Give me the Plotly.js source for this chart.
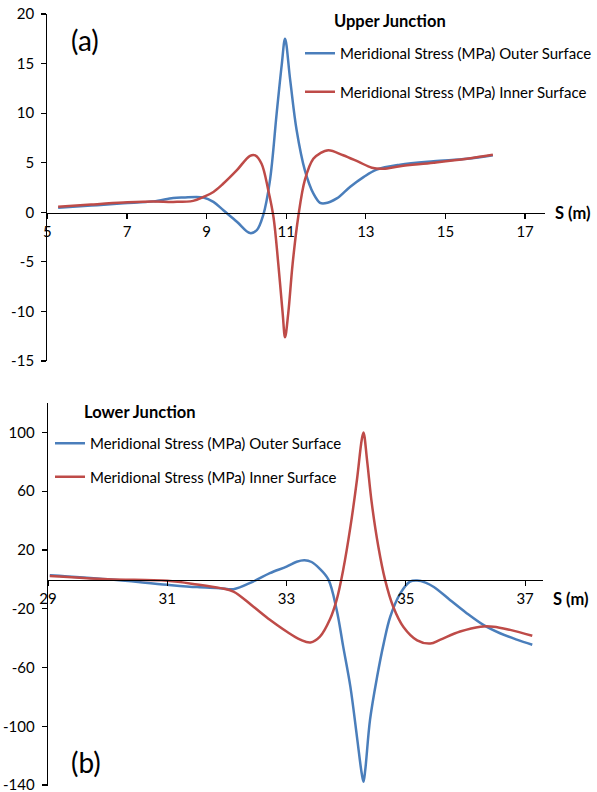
<!DOCTYPE html>
<html><head><meta charset="utf-8">
<script src="https://cdn.plot.ly/plotly-3.0.1.min.js"></script>
<style>html,body{margin:0;padding:0;background:#fff}#chart{width:597px;height:792px}</style>
</head><body><div id="chart"></div>
<script>
// ---- Upper junction (a) ----
const upperOuterS = [5.27, 6.1, 6.91, 7.66, 8.16, 8.41, 8.92, 9.17, 9.42, 9.76, 10.09, 10.26, 10.42, 10.59, 10.76, 10.89, 10.97, 11.1, 11.26, 11.47, 11.68, 11.85, 11.97, 12.27, 12.6, 12.94, 13.27, 13.86, 14.7, 15.54, 16.19];
const upperOuter  = [0.45, 0.68, 0.9, 1.1, 1.45, 1.5, 1.5, 1.05, 0.2, -0.95, -2.1, -1.8, -0.3, 3.2, 10.0, 15.0, 17.5, 13.3, 8.3, 4.2, 1.9, 0.95, 0.9, 1.4, 2.55, 3.55, 4.3, 4.8, 5.15, 5.4, 5.75];
const upperInnerS = [5.27, 6.1, 6.91, 7.66, 8.16, 8.66, 8.92, 9.17, 9.42, 9.76, 10.09, 10.22, 10.38, 10.55, 10.68, 10.8, 10.91, 10.97, 11.05, 11.16, 11.3, 11.47, 11.68, 11.85, 12.06, 12.43, 12.81, 13.15, 13.44, 13.86, 14.7, 15.54, 16.19];
const upperInner  = [0.55, 0.78, 0.98, 1.1, 1.05, 1.15, 1.55, 2.05, 2.9, 4.25, 5.7, 5.75, 4.9, 2.2, -0.5, -5.2, -10.2, -12.6, -10.2, -5.2, -0.5, 3.3, 5.4, 5.95, 6.25, 5.75, 5.1, 4.5, 4.4, 4.65, 5.0, 5.4, 5.8];
const upperXTicks = [5, 7, 9, 11, 13, 15, 17];
const upperYTicks = [-15, -10, -5, 0, 5, 10, 15, 20];

// ---- Lower junction (b) ----
const lowerOuterS = [29.03, 30, 31, 31.5, 31.89, 32.11, 32.44, 32.72, 33.0, 33.17, 33.3, 33.42, 33.55, 33.7, 33.84, 33.95, 34.07, 34.18, 34.26, 34.29, 34.32, 34.4, 34.52, 34.63, 34.74, 34.91, 35.07, 35.19, 35.33, 35.47, 35.74, 36.02, 36.3, 36.58, 36.86, 37.12];
const lowerOuter  = [2.8, 0, -3.7, -5.3, -6.0, -6.7, -1.5, 4.2, 8.7, 12.0, 13.0, 11.8, 7.5, 0, -20.7, -45.8, -73, -107, -132, -137.8, -129.5, -95.5, -66, -43.4, -25.3, -9.4, -1.5, -0.8, -2.2, -5.2, -14, -23, -31, -36.7, -41, -44.5];
const lowerInnerS = [29.03, 30, 31, 31.5, 31.89, 32.11, 32.44, 32.72, 33.0, 33.23, 33.4, 33.56, 33.73, 33.84, 33.95, 34.07, 34.18, 34.26, 34.29, 34.35, 34.43, 34.54, 34.65, 34.79, 34.96, 35.19, 35.41, 35.58, 35.91, 36.25, 36.47, 36.75, 37.12];
const lowerInner  = [2.2, 0, -1.0, -3.5, -6.0, -8.3, -18.5, -27.5, -35.5, -41, -43, -39, -27, -14, 6.5, 35.5, 67.6, 94.8, 100, 81, 51.5, 22, 0, -18.8, -32.4, -41.5, -43.7, -41, -35.5, -32.2, -32.2, -34.4, -38.4];
const lowerXTicks = [29, 31, 33, 35, 37];
const lowerYTicks = [-140, -100, -60, -20, 20, 60, 100];

const seriesNames = ['Meridional Stress (MPa) Outer Surface', 'Meridional Stress (MPa) Inner Surface'];
const BLUE = '#4A7EBB', RED = '#BE4B48';

const W = 597, H = 792;
const px = x => x / W;
const py = y => 1 - y / H;
const FONT = 'Lato, "Open Sans", sans-serif';

const lineStyle = c => ({color: c, width: 2.5, shape: 'spline', smoothing: 1});
const traces = [
  {x: upperOuterS, y: upperOuter, name: seriesNames[0], xaxis: 'x', yaxis: 'y', legend: 'legend', legendgroup: 'a1', mode: 'lines', line: lineStyle(BLUE)},
  {x: upperInnerS, y: upperInner, name: seriesNames[1], xaxis: 'x', yaxis: 'y', legend: 'legend', legendgroup: 'a2', mode: 'lines', line: lineStyle(RED)},
  {x: lowerOuterS, y: lowerOuter, name: seriesNames[0], xaxis: 'x2', yaxis: 'y2', legend: 'legend2', legendgroup: 'b1', mode: 'lines', line: lineStyle(BLUE)},
  {x: lowerInnerS, y: lowerInner, name: seriesNames[1], xaxis: 'x2', yaxis: 'y2', legend: 'legend2', legendgroup: 'b2', mode: 'lines', line: lineStyle(RED)}
];

const axBase = {showgrid: false, zeroline: false, showline: true, linecolor: '#000', linewidth: 1.3,
  ticks: 'outside', ticklen: 5, tickcolor: '#000', tickwidth: 1.2, ticklabeloverflow: 'allow',
  tickfont: {family: FONT, size: 15, color: '#000'}, fixedrange: true};

const layout = {
  width: W, height: H,
  margin: {l: 0, r: 0, t: 0, b: 0},
  paper_bgcolor: '#fff', plot_bgcolor: 'rgba(0,0,0,0)',
  font: {family: FONT, size: 15, color: '#000'},
  showlegend: true,
  xaxis: Object.assign({}, axBase, {domain: [px(47.4), px(545)], range: [5, 17.5], anchor: 'free', position: py(212.5),
    tickmode: 'array', tickvals: upperXTicks, ticktext: upperXTicks.map(String)}),
  yaxis: Object.assign({}, axBase, {domain: [py(361), py(14)], range: [-15, 20], anchor: 'x', ticklabelstandoff: 4,
    tickmode: 'array', tickvals: upperYTicks, ticktext: upperYTicks.map(String)}),
  xaxis2: Object.assign({}, axBase, {domain: [px(48), px(543)], range: [29, 37.3], anchor: 'free', position: py(579.5),
    tickmode: 'array', tickvals: lowerXTicks, ticktext: lowerXTicks.map(String)}),
  yaxis2: Object.assign({}, axBase, {domain: [py(785.5), py(403)], range: [-140.3, 120], anchor: 'x2', ticklabelstandoff: 4,
    tickmode: 'array', tickvals: lowerYTicks, ticktext: lowerYTicks.map(String)}),
  legend: {x: px(300), y: py(37), xanchor: 'left', yanchor: 'top', bgcolor: 'rgba(0,0,0,0)',
    font: {family: FONT, size: 15, color: '#000'}, tracegroupgap: 16, traceorder: 'grouped'},
  legend2: {x: px(50), y: py(427), xanchor: 'left', yanchor: 'top', bgcolor: 'rgba(0,0,0,0)',
    font: {family: FONT, size: 15, color: '#000'}, tracegroupgap: 11, traceorder: 'grouped'},
  annotations: [
    {text: '<b>Upper Junction</b>', xref: 'paper', yref: 'paper', x: px(332), y: py(21), xanchor: 'left', yanchor: 'middle', showarrow: false, font: {family: FONT, size: 16.5}},
    {text: '<b>Lower Junction</b>', xref: 'paper', yref: 'paper', x: px(82), y: py(412), xanchor: 'left', yanchor: 'middle', showarrow: false, font: {family: FONT, size: 16.5}},
    {text: '<b>S (m)</b>', xref: 'paper', yref: 'paper', x: px(553), y: py(213), xanchor: 'left', yanchor: 'middle', showarrow: false, font: {family: FONT, size: 16.5}},
    {text: '<b>S (m)</b>', xref: 'paper', yref: 'paper', x: px(551), y: py(599), xanchor: 'left', yanchor: 'middle', showarrow: false, font: {family: FONT, size: 16.5}},
    {text: '(a)', xref: 'paper', yref: 'paper', x: px(69), y: py(40), xanchor: 'left', yanchor: 'middle', showarrow: false, font: {family: FONT, size: 28}},
    {text: '(b)', xref: 'paper', yref: 'paper', x: px(69), y: py(762), xanchor: 'left', yanchor: 'middle', showarrow: false, font: {family: FONT, size: 28}}
  ]
};

Plotly.newPlot('chart', traces, layout, {displayModeBar: false, staticPlot: true});
</script>
</body></html>
